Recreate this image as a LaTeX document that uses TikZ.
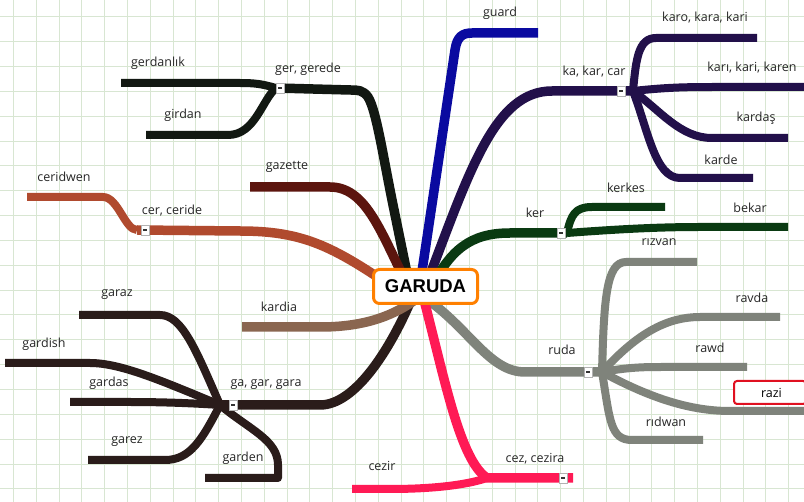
\documentclass[tikz,border=0pt]{standalone}
\usepackage{fontspec}
\setmainfont{Open Sans}
\newfontfamily\hfont{Liberation Sans}
\definecolor{gridc}{HTML}{D8E6D2}
\definecolor{cger}{HTML}{121812}
\definecolor{cguard}{HTML}{0A0AA0}
\definecolor{cka}{HTML}{22104A}
\definecolor{cker}{HTML}{0A3A12}
\definecolor{cruda}{HTML}{7F837B}
\definecolor{ccez}{HTML}{FF1A55}
\definecolor{cga}{HTML}{2A1C1A}
\definecolor{ckardia}{HTML}{8A6650}
\definecolor{ccer}{HTML}{B04A2E}
\definecolor{cgaz}{HTML}{5C150E}
\definecolor{corange}{HTML}{FF8000}
\definecolor{cred}{HTML}{E01020}
\begin{document}
\begin{tikzpicture}[x=1pt,y=-1pt,
  br/.style={line width=8pt,line cap=butt,line join=round},
  brm/.style={line width=9.5pt,line cap=butt,line join=round},
  lbl/.style={font=\fontsize{12.5}{14}\selectfont,inner sep=0pt,text=black!85},
  mk/.style={draw=gray!60,fill=white,minimum width=8pt,minimum height=10pt,inner sep=0pt,line width=0.6pt,
    path picture={\draw[line width=1.3pt,black!80] ([xshift=-2pt]path picture bounding box.center) -- ([xshift=2pt]path picture bounding box.center);}}]
\useasboundingbox (0,0) rectangle (804,502);
\fill[white] (0,0) rectangle (804,502);
% grid
\foreach \i in {0,...,34} \draw[gridc,line width=0.8pt] ({13.3+22.8*\i},0) -- ({13.3+22.8*\i},502);
\foreach \j in {0,...,19} \draw[gridc,line width=0.8pt] (0,{16.7+24.85*\j}) -- (804,{16.7+24.85*\j});

% junction coordinates
\coordinate (jger) at (276,88);
\coordinate (jka) at (633,91);
\coordinate (jker) at (567,233);
\coordinate (jruda) at (602,372);
\coordinate (jcez) at (487,478);
\coordinate (jga) at (220,405);
\coordinate (jcer) at (137,230);

% ---- ger, gerede
\draw[brm,cger] (408,278) -- (392,200) .. controls (382,150) and (376,110) .. (368,97) .. controls (363,90) and (358,90) .. (350,90) -- (jger);
\draw[br,cger] (jger) .. controls (262,84) and (255,83) .. (240,83) -- (121,83);
\draw[br,cger] (jger) .. controls (262,100) and (255,135) .. (228,135) -- (146,135);
% ---- gazette
\draw[brm,cgaz] (404,278) .. controls (380,230) and (365,187) .. (330,187) -- (250,187);
% ---- cer, ceride
\draw[brm,ccer] (385,282) .. controls (330,245) and (300,231) .. (240,231) -- (jcer);
\draw[br,ccer] (jcer) .. controls (125,230) and (118,197) .. (103,197) -- (27,197);
% ---- guard
\draw[brm,cguard] (421,278) -- (455,50) .. controls (457,37) and (462,33) .. (472,33) -- (538,33);
% ---- ka, kar, car
\draw[brm,cka] (428,280) .. controls (470,170) and (495,91) .. (552,91) -- (jka);
\draw[br,cka] (jka) .. controls (636,60) and (638,38) .. (656,38) -- (757,38);
\draw[br,cka] (jka) .. controls (670,87) and (690,87) .. (720,87) -- (804,87);
\draw[br,cka] (jka) .. controls (660,110) and (680,138) .. (712,138) -- (788,138);
\draw[br,cka] (jka) .. controls (648,130) and (655,178) .. (680,178) -- (753,178);
% ---- ker
\draw[brm,cker] (430,290) .. controls (450,250) and (470,233) .. (510,233) -- (jker);
\draw[br,cker] (jker) .. controls (571,215) and (575,207) .. (592,207) -- (665,207);
\draw[br,cker] (jker) .. controls (620,229) and (660,227) .. (700,227) -- (788,227);
% ---- ruda
\draw[brm,cruda] (428,300) .. controls (470,330) and (490,372) .. (525,372) -- (jruda);
\draw[br,cruda] (jruda) .. controls (604,300) and (606,262) .. (626,262) -- (697,262);
\draw[br,cruda] (jruda) .. controls (640,330) and (670,317) .. (700,317) -- (780,317);
\draw[br,cruda] (jruda) .. controls (630,367) and (645,367) .. (665,367) -- (747,367);
\draw[br,cruda] (jruda) .. controls (650,398) and (690,411) .. (730,411) -- (804,411);
\draw[br,cruda] (jruda) .. controls (610,420) and (610,440) .. (632,440) -- (703,440);
% ---- cez, cezira
\draw[brm,ccez] (424,300) .. controls (445,380) and (460,460) .. (jcez) -- (573,478);
\draw[br,ccez] (jcez) .. controls (460,487) and (420,489) .. (390,489) -- (352,489);
% ---- ga, gar, gara
\draw[brm,cga] (412,298) .. controls (390,350) and (355,405) .. (320,405) -- (jga);
\draw[br,cga] (jga) .. controls (196,350) and (182,315) .. (160,315) -- (79,315);
\draw[br,cga] (jga) .. controls (160,380) and (120,363) .. (90,363) -- (5,363);
\draw[br,cga] (jga) .. controls (190,403) and (160,402) .. (130,402) -- (70,402);
\draw[br,cga] (jga) .. controls (202,440) and (190,460) .. (165,460) -- (88,460);
\draw[br,cga] (jga) .. controls (250,430) and (278,440) .. (278,465) -- (278,478) -- (205,478);
% ---- kardia
\draw[brm,ckardia] (415,300) .. controls (390,318) and (360,327) .. (320,327) -- (242,327);

% markers
\node[mk] (mger) at (280,88) {};
\node[mk] (mka) at (621,91) {};
\node[mk] (mker) at (561,233) {};
\node[mk] (mruda) at (588,372) {};
\node[mk] (mcez) at (563,478) {};
\node[mk] (mga) at (233,405) {};
\node[mk] (mcer) at (145,230) {};

% center
\node[draw=corange,line width=3pt,rounded corners=6pt,fill=white,minimum width=104pt,minimum height=34pt,
  font=\hfont\bfseries\fontsize{18.5}{20}\selectfont] (garuda) at (425.5,286.5) {GARUDA};
% razi
\node[draw=cred,line width=2pt,rounded corners=3pt,fill=white,minimum width=72pt,minimum height=23pt,
  font=\fontsize{12.5}{14}\selectfont,inner sep=0pt] (razi) at (770,392.5) {\hspace*{3pt}razi};

% labels
\node[lbl] (l1) at (158,63) {gerdanlık};
\node[lbl] (l2) at (308,69) {ger, gerede};
\node[lbl] (l3) at (183,115) {girdan};
\node[lbl] (l4) at (287,167) {gazette};
\node[lbl] (l5) at (64,177) {ceridwen};
\node[lbl] (l6) at (172,211) {cer, ceride};
\node[lbl] (l7) at (500,13) {guard};
\node[lbl] (l8) at (705,18) {karo, kara, kari};
\node[lbl] (l9) at (594,72) {ka, kar, car};
\node[lbl] (l10) at (752,68) {karı, kari, karen};
\node[lbl] (l11) at (756,118) {kardaş};
\node[lbl] (l12) at (721,160) {karde};
\node[lbl] (l13) at (626,188) {kerkes};
\node[lbl] (l14) at (535,213) {ker};
\node[lbl] (l15) at (750,208) {bekar};
\node[lbl] (l16) at (659,242) {rızvan};
\node[lbl] (l17) at (752,298) {ravda};
\node[lbl] (l18) at (710,348) {rawd};
\node[lbl] (l19) at (562,350) {ruda};
\node[lbl] (l20) at (666,422) {rıdwan};
\node[lbl] (l21) at (535,459) {cez, cezira};
\node[lbl] (l22) at (382,466) {cezir};
\node[lbl] (l23) at (117,295) {garaz};
\node[lbl] (l24) at (279,307) {kardia};
\node[lbl] (l25) at (44,344) {gardish};
\node[lbl] (l26) at (109,383) {gardas};
\node[lbl] (l27) at (266,385) {ga, gar, gara};
\node[lbl] (l28) at (127,442) {garez};
\node[lbl] (l29) at (243,458) {garden};
\end{tikzpicture}
\end{document}
